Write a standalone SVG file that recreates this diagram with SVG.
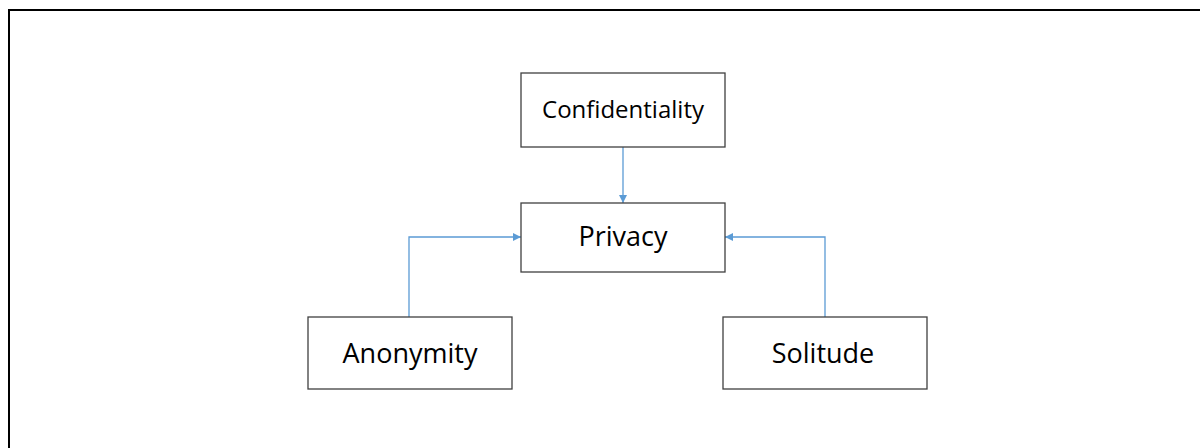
<svg xmlns="http://www.w3.org/2000/svg" width="1200" height="448" viewBox="0 0 1200 448">
  <defs>
    <marker id="arrow" viewBox="0 0 10 10" refX="10" refY="5" markerWidth="8" markerHeight="8" markerUnits="userSpaceOnUse" orient="auto">
      <path d="M0,0 L10,5 L0,10 z" fill="#5B9BD5"/>
    </marker>
  </defs>
  <style>
    .box { fill: #ffffff; stroke: #404040; stroke-width: 1.3; }
    .label { font-family: "Open Sans", "Liberation Sans", sans-serif; font-size: 27px; fill: #000000; text-anchor: middle; }
    .link { fill: none; stroke: #5B9BD5; stroke-width: 1.3; marker-end: url(#arrow); }
  </style>
  <rect width="1200" height="448" fill="#ffffff"/>
  <!-- frame: left and top edges only -->
  <path d="M9,448 V10 H1200" fill="none" stroke="#000000" stroke-width="2"/>

  <g id="connectors">
    <path class="link" d="M623,147 V203"/>
    <path class="link" d="M409,317 V237 H521"/>
    <path class="link" d="M825,317 V237 H725"/>
  </g>

  <g id="confidentiality">
    <rect class="box" x="521" y="73" width="204" height="74"/>
    <text class="label" x="623" y="118" style="font-size:24px">Confidentiality</text>
  </g>
  <g id="privacy">
    <rect class="box" x="521" y="203" width="204" height="69"/>
    <text class="label" x="623" y="246">Privacy</text>
  </g>
  <g id="anonymity">
    <rect class="box" x="308" y="317" width="204" height="72"/>
    <text class="label" x="410" y="363">Anonymity</text>
  </g>
  <g id="solitude">
    <rect class="box" x="723" y="317" width="204" height="72"/>
    <text class="label" x="823" y="363">Solitude</text>
  </g>
</svg>
